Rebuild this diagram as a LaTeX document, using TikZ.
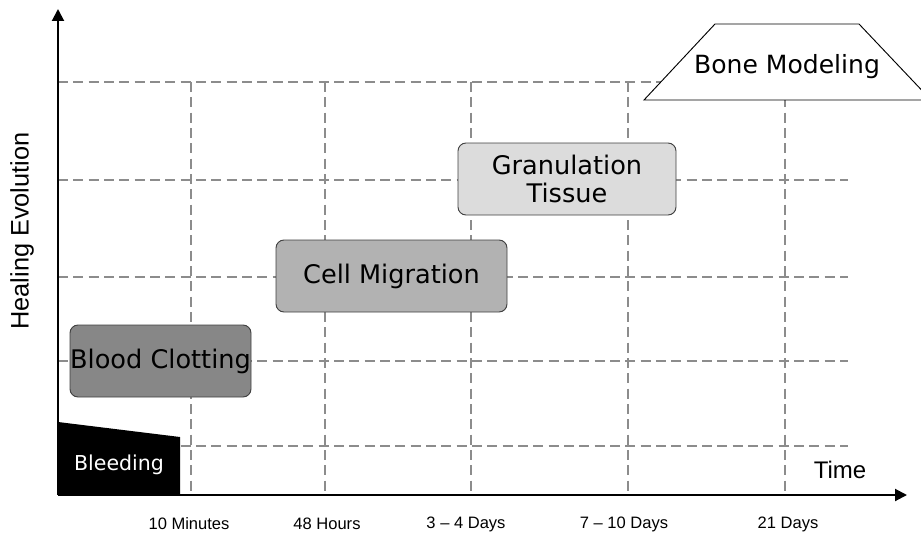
\documentclass[tikz,border=0pt]{standalone}
\usepackage{fontspec}
\setmainfont{Liberation Sans}
\newfontfamily\phasefont{DejaVu Sans}
\usepackage{tikz}
\usetikzlibrary{positioning,arrows.meta,calc}
\definecolor{clotgray}{HTML}{878787}
\definecolor{miggray}{HTML}{B2B2B2}
\definecolor{grangray}{HTML}{DCDCDC}
\definecolor{gridgray}{HTML}{8C8C8C}
\tikzset{
  axis/.style={line width=1.5pt,-{Triangle[length=9pt,width=9pt]}},
  gridline/.style={gridgray,line width=0.8pt,dash pattern=on 7.5pt off 4pt},
  phasebox/.style args={#1,#2}{
  rounded corners=6pt,
  draw=black!75,
  line width=0.7pt,
  align=center,
  inner sep=0pt,
  font=\phasefont\fontsize{19.2}{21}\selectfont,
  minimum width=#1 pt,
  minimum height=#2 pt,
  },
  ticklabel/.style={font=\fontsize{12.4}{14}\selectfont,inner sep=0pt},
}

\begin{document}
\begin{tikzpicture}[x=0.75pt,y=-0.75pt]
  \useasboundingbox (0,0) rectangle (921,535);

  % grid
  \foreach \yy in {82,180,277,361,446}
    \draw [gridline] (58,\yy) -- (848,\yy);
  \foreach \xx in {191,325,471,628,785}
    \draw [gridline] (\xx,82) -- (\xx,495);

  % bleeding
  \fill [black] (58,422) -- (180,437) -- (180,495) -- (58,495) -- cycle;
  \node [text=white,font=\phasefont\fontsize{15.4}{18}\selectfont] (bleed) at (119,465) {Bleeding};

  % phases
  \node [phasebox={135.75,54},fill=clotgray] (clot) at (160.5,361) {Blood Clotting};
  \node [phasebox={173.25,54},fill=miggray] (migr) at (391.5,276) {Cell Migration};
  \node [phasebox={163.5,54},fill=grangray] (gran) at (567,179) {Granulation\\Tissue};

  \filldraw [fill=white,draw=black,line width=0.7pt] (644,100) -- (715,24) -- (859,24) -- (931,100) -- cycle;
  \node [font=\phasefont\fontsize{18.8}{22}\selectfont] (bone) at (787,67) {Bone Modeling};

  % axes
  \coordinate (o) at (58,495);
  \coordinate (ytop) at (58,9);
  \coordinate (xend) at (907,495);
  \draw [axis] (o) -- (ytop);
  \draw [axis] (o) -- (xend);

  \node [rotate=90,font=\fontsize{19}{22}\selectfont] (yl) at (22,231) {Healing Evolution};
  \node [font=\fontsize{18}{21}\selectfont] (xl) at (840,470) {Time};

  \node [ticklabel] (t1) at (189,524) {10 Minutes};
  \node [ticklabel] (t2) at (327,524) {48 Hours};
  \node [ticklabel] (t3) at (466,524) {3 -- 4 Days};
  \node [ticklabel] (t4) at (624,524) {7 -- 10 Days};
  \node [ticklabel] (t5) at (788,524) {21 Days};
\end{tikzpicture}
\end{document}
